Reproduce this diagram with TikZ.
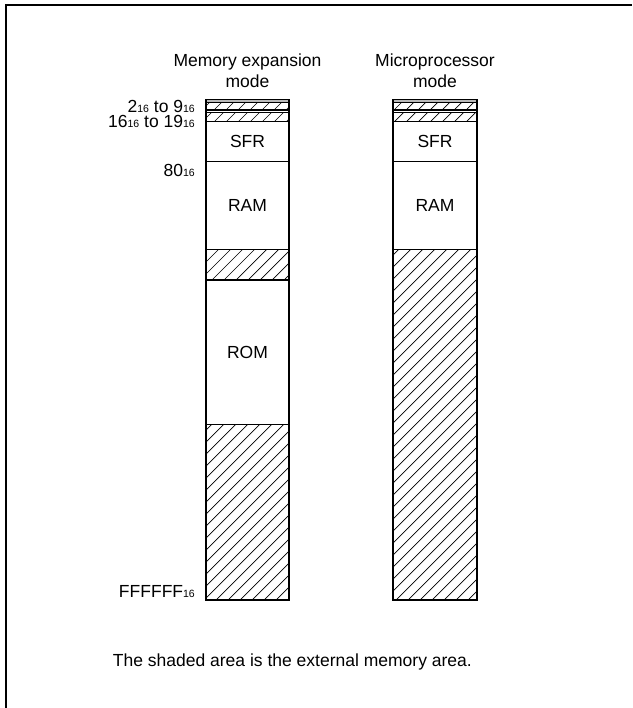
\documentclass[tikz,border=0pt]{standalone}
\usepackage{fontspec}
\setmainfont{Liberation Sans}
\newcommand\subsix{{\fontsize{10.5}{12}\selectfont 16}}
\begin{document}
\begin{tikzpicture}[x=1pt,y=-1pt,
  txt/.style={inner sep=0pt, font=\fontsize{17.5}{21}\selectfont},
  box/.style={draw=black, line width=1.2pt},
  hatchline/.style={line width=0.7pt},
  frameline/.style={line width=2pt}]
\useasboundingbox (0,0) rectangle (632,708);
\fill[white] (0,0) rectangle (632,708);
\draw[frameline] (6,708) -- (6,5) -- (632,5);

% gray thin top bands
\fill[gray!55] (206,99.3) rectangle (289,102.7);
\fill[gray!55] (393,99.3) rectangle (477,102.7);

% hatched regions
\foreach \xa/\xb/\ya/\yb in {206/289/102.7/110, 206/289/112.7/121.7, 206/289/249.7/280, 206/289/424.3/600,
  393/477/102.7/110, 393/477/112.7/121.7, 393/477/249.7/600}{
  \begin{scope}
    \clip (\xa,\ya) rectangle (\xb,\yb);
    \foreach \c in {300,312,...,1100}{
      \draw[hatchline] (\c-700,700) -- (\c,0);
    }
  \end{scope}
}

% left column outline
\draw[box] (206,99.3) rectangle (289,600);
\foreach \yy in {102.7,110,112.7,121.7,161.7,249.7,280,424.3}{
  \draw[box] (206,\yy) -- (289,\yy);
}
% right column outline
\draw[box] (393,99.3) rectangle (477,600);
\foreach \yy in {102.7,110,112.7,121.7,161.7,249.7}{
  \draw[box] (393,\yy) -- (477,\yy);
}

% titles
\node[txt, anchor=base] (t1a) at (247.5,66.7) {Memory expansion};
\node[txt, anchor=base] (t1b) at (247.5,87.7) {mode};
\node[txt, anchor=base] (t2a) at (435,66.7) {Microprocessor};
\node[txt, anchor=base] (t2b) at (435,87.7) {mode};

% region labels
\node[txt] (sfr1) at (247.5,141.9) {SFR};
\node[txt] (ram1) at (247.5,205.7) {RAM};
\node[txt] (rom1) at (247.5,352.2) {ROM};
\node[txt] (sfr2) at (435,141.9) {SFR};
\node[txt] (ram2) at (435,205.7) {RAM};

% address labels
\node[txt, anchor=base east] (a1) at (195,112.7) {2\subsix{} to 9\subsix};
\node[txt, anchor=base east] (a2) at (195,128) {16\subsix{} to 19\subsix};
\node[txt, anchor=base east] (a3) at (195,176.7) {80\subsix};
\node[txt, anchor=base east] (a4) at (195,597.7) {FFFFFF\subsix};

% caption
\node[txt, anchor=base west] (cap) at (112.7,666) {The shaded area is the external memory area.};
\end{tikzpicture}
\end{document}
